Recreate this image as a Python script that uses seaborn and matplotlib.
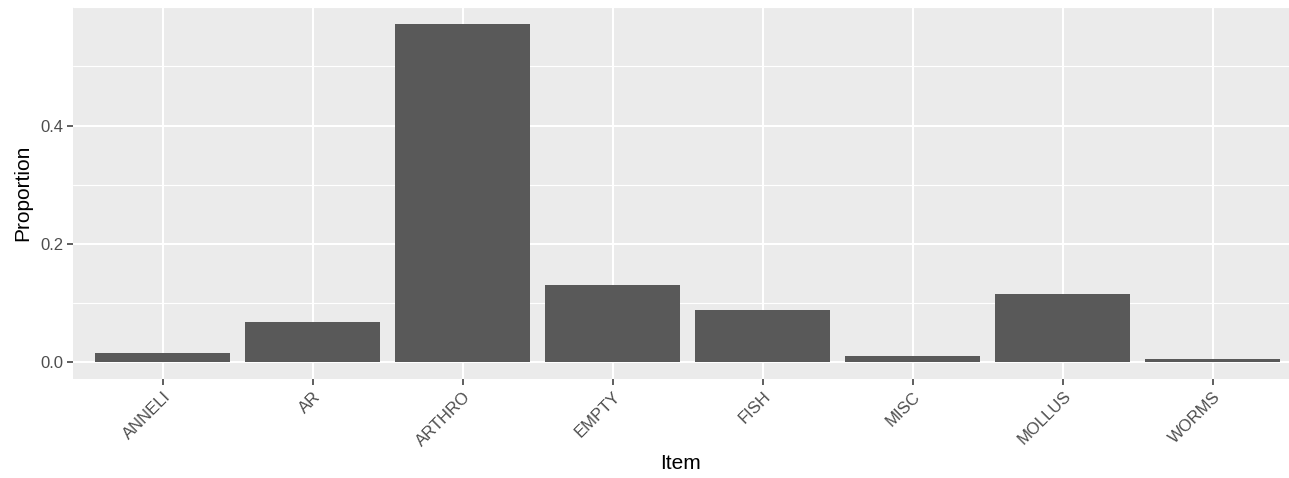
import matplotlib
matplotlib.use("Agg")
import matplotlib.pyplot as plt
import seaborn as sns
import pandas as pd
from matplotlib.ticker import MultipleLocator

# values
items = ["ANNELI", "AR", "ARTHRO", "EMPTY", "FISH", "MISC", "MOLLUS", "WORMS"]
proportion = [0.016, 0.067, 0.572, 0.130, 0.088, 0.0096, 0.1145, 0.0057]

df = pd.DataFrame({"Item": items, "Proportion": proportion})

sns.set_theme(style="darkgrid")
plt.rcParams["font.family"] = ["Liberation Sans", "DejaVu Sans"]

fig = plt.figure(figsize=(12.89, 4.78), dpi=100)
ax = fig.add_axes([73 / 1289, 1 - 379 / 478, 1 - 73 / 1289, (379 - 7) / 478])

sns.barplot(data=df, x="Item", y="Proportion", color="#595959", saturation=1,
            width=0.9, ax=ax, zorder=3, linewidth=0, edgecolor="none")

ax.set_facecolor("#EBEBEB")
for s in ax.spines.values():
    s.set_visible(False)

ax.set_xlim(-0.6, 7.507)
ax.set_ylim(-0.0286, 0.6006)
ax.yaxis.set_minor_locator(MultipleLocator(0.1))
ax.set_yticks([0.0, 0.2, 0.4])
ax.set_yticklabels(["0.0", "0.2", "0.4"])

ax.grid(which="major", color="white", linewidth=1.5, zorder=0)
ax.grid(which="minor", axis="y", color="white", linewidth=0.8, zorder=0)
ax.set_axisbelow(True)

ax.tick_params(axis="both", which="major", length=4, width=1.1, color="#333333",
               labelsize=12, labelcolor="#4D4D4D", pad=3, left=True, bottom=True)
ax.tick_params(axis="y", which="minor", length=0)
plt.setp(ax.get_xticklabels(), rotation=45, ha="right", va="top", rotation_mode="anchor")

ax.set_xlabel("Item", fontsize=15, color="black", labelpad=4)
ax.set_ylabel("Proportion", fontsize=15, color="black", labelpad=6)

fig.savefig("out.png", dpi=100)
